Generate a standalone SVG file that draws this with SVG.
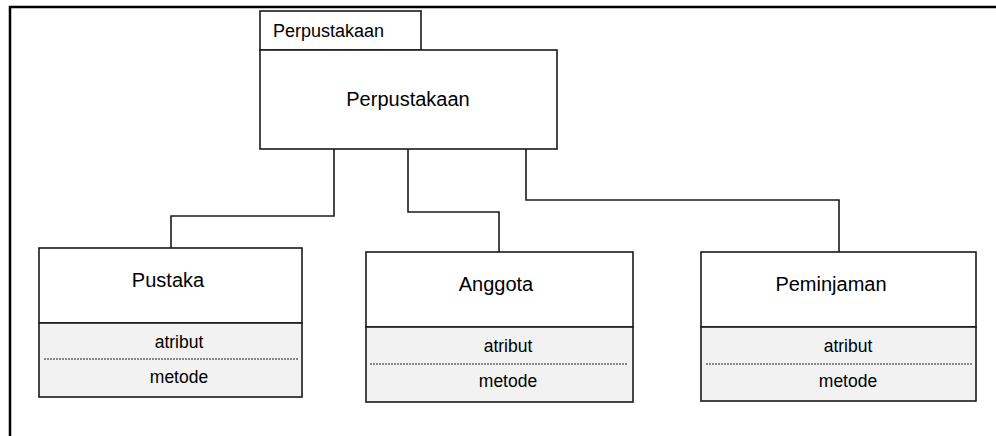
<svg xmlns="http://www.w3.org/2000/svg" width="996" height="436" viewBox="0 0 996 436">
  <style>
    .frame { stroke: #000; stroke-width: 2.5; fill: none; }
    .box { fill: #fff; stroke: #1a1a1a; stroke-width: 1.6; }
    .lower { fill: #f2f2f2; stroke: #1a1a1a; stroke-width: 1.6; }
    .sep { stroke: #1a1a1a; stroke-width: 1.2; stroke-dasharray: 2 1; fill: none; }
    .wire { stroke: #1a1a1a; stroke-width: 1.6; fill: none; }
    text { font-family: "Liberation Sans", Arial, sans-serif; fill: #000; }
    .title { font-size: 20px; text-anchor: middle; }
    .member { font-size: 17.5px; text-anchor: middle; }
  </style>

  <!-- package frame -->
  <path class="frame" d="M10,436 V7 H996"/>

  <!-- package -->
  <g id="perpustakaan">
    <rect class="box" x="260" y="11" width="161" height="39"/>
    <text x="273" y="37" font-size="18">Perpustakaan</text>
    <rect class="box" x="260" y="50" width="297" height="99"/>
    <text class="title" x="408" y="106">Perpustakaan</text>
  </g>

  <!-- connectors -->
  <g id="connectors">
    <path class="wire" d="M334,149 V216 H171 V248"/>
    <path class="wire" d="M408,149 V212 H499 V252"/>
    <path class="wire" d="M526,149 V200 H839 V252"/>
  </g>

  <g id="pustaka">
    <rect class="box" x="39" y="248" width="263" height="75"/>
    <rect class="lower" x="39" y="323" width="263" height="74"/>
    <line class="sep" x1="44" y1="359" x2="298" y2="359"/>
    <text class="title" x="168" y="287">Pustaka</text>
    <text class="member" x="179" y="348">atribut</text>
    <text class="member" x="179" y="383">metode</text>
  </g>

  <g id="anggota">
    <rect class="box" x="366" y="252" width="267" height="75"/>
    <rect class="lower" x="366" y="327" width="267" height="75"/>
    <line class="sep" x1="370" y1="364" x2="628" y2="364"/>
    <text class="title" x="496" y="291">Anggota</text>
    <text class="member" x="508" y="352">atribut</text>
    <text class="member" x="508" y="387">metode</text>
  </g>

  <g id="peminjaman">
    <rect class="box" x="701" y="252" width="275" height="75"/>
    <rect class="lower" x="701" y="327" width="275" height="74"/>
    <line class="sep" x1="706" y1="364" x2="972" y2="364"/>
    <text class="title" x="831" y="291">Peminjaman</text>
    <text class="member" x="848" y="352">atribut</text>
    <text class="member" x="848" y="387">metode</text>
  </g>
</svg>
